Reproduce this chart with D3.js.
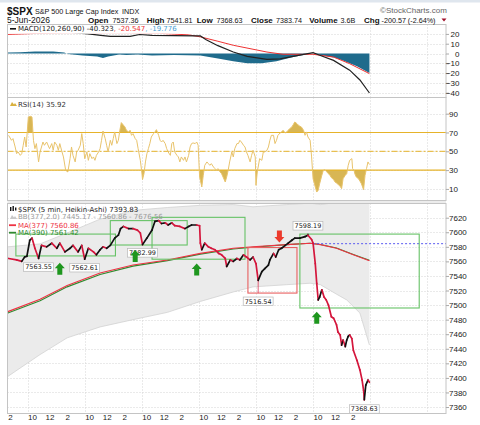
<!DOCTYPE html>
<html>
<head>
<meta charset="utf-8">
<title>$SPX 5 min Heikin-Ashi</title>
<script src="https://cdn.jsdelivr.net/npm/d3@7"></script>
<style>
  body { margin: 0; background: #fff; }
  svg { display: block; }
  .axis text { font-family: "Liberation Sans", Arial, sans-serif; font-size: 8px; fill: #222; }
  .legend { font-family: "DejaVu Sans", Verdana, sans-serif; font-size: 7px; }
  .hdr { font-family: "Liberation Sans", Arial, sans-serif; fill: #111; }
</style>
</head>
<body>
<svg id="chart" width="480" height="425"></svg>
<script>

//// DATA ////
// x values are 5-minute bars counted from the 5/29 open (bar 0 = 9:30), 78 bars per session

var dayLabels = ["5/29", "6/1", "6/2", "6/3", "6/4", "6/5", "6/8", "6/9"];
var sessionTimes = [[6, "10"], [30, "12"], [54, "2"]];
var tradedDays = [-1, 0, 1, 2, 3, 4, 5];

var priceTicks = [7360, 7380, 7400, 7420, 7440, 7460, 7480, 7500, 7520, 7540, 7560, 7580, 7600, 7620];
var macdTicks = [20, 10, 0, -10, -20, -30, -40];
var rsiTicks = [90, 70, 50, 30, 10];

// Heikin-Ashi close, [bar, price]
var priceSeries = [
  [-26,7564],[-15,7562],[-8,7560],[-4,7566],[-1,7567],[3,7589],[6,7592],[10,7578],[15,7564],[19,7582],
  [26,7580],[33,7585],[40,7578],[44,7585],[51,7573],[58,7578],[62,7582],[69,7573],[74,7582],[78,7563],
  [83,7578],[90,7573],[94,7569],[99,7576],[103,7580],[108,7578],[113,7582],[119,7592],[124,7596],[127,7605],
  [131,7608],[138,7605],[144,7605],[150,7603],[154,7599],[157,7583],[163,7592],[170,7603],[174,7615],[179,7616],
  [183,7612],[188,7613],[192,7610],[197,7613],[201,7609],[208,7608],[215,7605],[220,7608],[224,7610],[231,7610],
  [235,7609],[236,7585],[238,7576],[242,7585],[247,7580],[251,7578],[256,7576],[261,7571],[265,7569],[270,7564],
  [272,7553],[277,7562],[281,7560],[286,7564],[290,7562],[295,7569],[299,7566],[304,7562],[308,7566],[312,7557],
  [315,7534],[320,7546],[324,7550],[329,7555],[331,7562],[336,7571],[339,7566],[343,7576],[347,7578],[352,7582],
  [356,7585],[361,7589],[365,7592],[372,7592],[379,7594],[383,7596],[388,7590],[390,7585],[393,7557],[395,7530],
  [397,7507],[399,7511],[402,7521],[405,7511],[408,7507],[411,7500],[415,7484],[418,7482],[422,7473],[424,7463],
  [427,7459],[429,7445],[431,7452],[434,7443],[436,7452],[438,7457],[440,7459],[443,7454],[445,7438],[450,7424],
  [454,7411],[457,7397],[459,7383],[460,7370],[462,7390],[465,7397],[467,7394]
];

var ma377 = [[-27,7491],[17,7508],[54,7527],[99,7544],[144,7555],[191,7562],[236,7571],[281,7578],[308,7580],
  [354,7583],[386,7585],[400,7583],[422,7578],[445,7569],[467,7560.86]];
var ma390 = [[-27,7489],[17,7506],[54,7525],[99,7542],[144,7553.5],[191,7561],[236,7570],[281,7577],[308,7579.5],
  [354,7583],[386,7585],[400,7583.2],[422,7578.3],[445,7569.5],[467,7561.42]];
var bbUpper = [[-27,7580],[17,7584],[54,7599],[99,7618],[144,7630],[191,7634],[236,7637],[281,7638],[308,7635],
  [354,7638],[386,7640],[400,7638],[422,7641],[436,7642],[454,7643],[467,7676.56]];
var bbLower = [[-27,7402],[17,7432],[54,7455],[99,7470],[144,7480],[191,7490],[236,7505],[281,7518],[308,7525],
  [354,7528],[386,7530],[400,7528],[422,7515],[436,7507],[454,7489],[467,7445.17]];

var prevClose = 7584.31;
var prevCloseFrom = 390;

// marked highs and lows
var extremes = [
  {bar: 15, price: 7563.55, type: "low"},
  {bar: 78, price: 7562.61, type: "low"},
  {bar: 157, price: 7582.99, type: "low"},
  {bar: 315, price: 7516.54, type: "low"},
  {bar: 383, price: 7598.19, type: "high"},
  {bar: 460, price: 7368.63, type: "low"}
];

// annotation rectangles
var zones = [
  {from: -16, to: 120, hi: 7597.5, lo: 7567.5, kind: "buy"},
  {from: 113, to: 218, hi: 7616, lo: 7582.5, kind: "buy"},
  {from: 170, to: 297, hi: 7620.5, lo: 7563, kind: "buy"},
  {from: 301, to: 368, hi: 7579, lo: 7516.5, kind: "sell"},
  {from: 372, to: 535, hi: 7597.5, lo: 7496, kind: "buy"}
];

// annotation arrows (price = arrow tip)
var signals = [
  {bar: 44, price: 7558, dir: "up"},
  {bar: 147, price: 7575.5, dir: "up"},
  {bar: 231, price: 7557, dir: "up"},
  {bar: 395, price: 7491, dir: "up"},
  {bar: 344, price: 7586, dir: "down"}
];

// MACD(120,260,90)
var macdLine = [[-27,23],[0,23],[30,22.5],[60,21.5],[83,20],[100,18.5],[113,17.5],[140,17.5],[153,19.4],[170,18.5],
  [200,18.3],[230,18],[236,17.9],[244,14],[260,8],[281,1.5],[300,-3],[327,-6],[345,-5.5],[370,-2],[390,0.8],
  [400,-2],[418,-7],[440,-17],[454,-27],[467,-40.32]];
var signalLine = [[-27,19.5],[12,20.5],[60,21],[120,21],[180,20.6],[220,19],[236,17],[260,12.5],[281,8.4],
  [327,1.5],[349,-0.8],[390,-0.8],[418,-3.6],[440,-10.4],[467,-20.55]];
var macdHist = [[-27,1],[-10,1.2],[10,2],[35,2],[50,1],[55,-0.5],[75,-2],[95,-3],[103,-4.5],[110,-3],[125,-1],
  [135,-1.5],[150,-1],[170,-2],[200,-1.5],[236,-2],[260,-5],[281,-8],[300,-10],[320,-10],[340,-8],[360,-4],
  [380,-1],[390,0],[400,-1.5],[418,-4],[430,-7],[450,-13],[467,-19.78]];

// RSI(14)
var rsiSeries = [
  [-26,67],[-22,61.7],[-20,63.5],[-17,54.6],[-15,47.5],[-13,49.3],[-10,45.7],[-8,47.5],[-6,56.4],[-4,65.2],
  [-2,54.6],[0,75.9],[1,86.5],[4,87.2],[6,86.5],[8,61.7],[10,52.8],[12,58.2],[15,38.7],[17,49.3],
  [21,59.9],[23,56.4],[26,59.9],[30,52.8],[33,58.2],[35,51.1],[37,59.9],[40,56.4],[42,51.1],[44,58.2],
  [47,49.3],[49,44],[52,29.8],[55,28],[58,42.2],[60,54.6],[62,45.7],[65,38.7],[67,49.3],[69,51.1],
  [72,56.4],[74,68.8],[76,58.2],[78,42.2],[81,49.3],[83,40.4],[85,47.5],[88,42.2],[90,44],[92,40.4],
  [94,45.7],[97,49.3],[99,52.8],[101,61.7],[103,71.6],[106,63.5],[108,56.4],[110,49.3],[113,61.7],[115,56.4],
  [117,63.5],[119,70.6],[122,58.2],[124,61.7],[126,72.3],[128,80.5],[131,77.7],[133,75.9],[135,72.3],[138,70.6],
  [140,72.3],[142,67],[144,68.8],[147,63.5],[149,61.7],[151,52.8],[154,40.4],[156,28],[157,19.9],[159,26.2],
  [161,38.7],[163,47.5],[165,52.8],[167,58.2],[169,65.2],[172,68.8],[174,70.6],[176,73],[179,67],[181,61.7],
  [183,59.9],[185,61.7],[188,58.2],[190,52.8],[192,49.3],[195,45.7],[197,58.2],[199,59.9],[201,49.3],[204,45.7],
  [206,44],[208,38.7],[210,44],[213,40.4],[215,44],[217,38.7],[220,45.7],[222,54.6],[224,58.2],[226,58.9],
  [229,58.2],[231,59.9],[233,56.4],[235,22.7],[238,12.1],[240,24.5],[242,35.1],[245,38.7],[247,36.9],[249,35.1],
  [251,36.9],[254,33.3],[256,31.6],[258,29.8],[260,31.6],[263,28],[265,26.2],[267,22.7],[270,17.4],[272,22.7],
  [274,29.8],[276,38.7],[279,49.3],[281,44],[283,52.8],[286,58.2],[288,58.2],[290,61.7],[292,59.9],[295,56.4],
  [297,54.6],[299,49.3],[301,45.7],[304,38.7],[306,45.7],[308,51.1],[311,44],[312,13.8],[314,29.8],[315,33.3],
  [317,42.2],[320,40.4],[322,49.3],[324,49.3],[327,51.1],[329,54.6],[331,61.7],[333,67],[336,67],[338,58.2],
  [340,61.7],[342,67],[345,69.5],[347,70.6],[349,72.3],[352,69.5],[354,70.6],[356,72.3],[358,74.1],[361,75.9],
  [363,78.4],[365,81.2],[368,79.4],[370,77.7],[372,76.6],[374,75.9],[377,72.3],[379,67],[381,70.6],[383,65.2],
  [386,61.7],[388,44],[390,20.9],[393,12.1],[395,6.7],[397,8.5],[399,15.6],[402,24.5],[404,29.8],[406,30.5],
  [408,28.7],[411,26.2],[413,24.5],[415,22],[418,19.9],[420,17.4],[422,16.3],[424,14.9],[427,12.8],[429,10.3],
  [431,20.9],[434,24.5],[436,26.2],[438,35.1],[440,40.4],[443,42.2],[444,31.6],[446,29.8],[447,26.2],[449,22.7],
  [452,20.9],[454,18.4],[456,15.6],[459,9.2],[461,24.5],[463,31.6],[465,38.7],[467,35.92]
];


//// LAYOUT ////
var svg = d3.select("#chart");
var plotLeft = 7.5, plotRight = 446;
var macdBox = {top: 24.5, bottom: 97.5};
var rsiBox = {top: 97.5, bottom: 200.5};
var priceBox = {top: 203.5, bottom: 413.5};

var x = d3.scaleLinear().domain([-27.46, 571.6]).range([plotLeft, plotRight]);
var yMacd = d3.scaleLinear().domain([-44.9, 29.6]).range([macdBox.bottom, macdBox.top]);
var yRsi = d3.scaleLinear().domain([-2.3, 107.2]).range([rsiBox.bottom, rsiBox.top]);
var yPrice = d3.scaleLinear().domain([7351.1, 7639.5]).range([priceBox.bottom, priceBox.top]);

var dayBars = dayLabels.map(function(d, i) { return i * 78; });

var defs = svg.append("defs");
function addClip(id, x0, y0, x1, y1) {
  defs.append("clipPath").attr("id", id).append("rect")
    .attr("x", x0).attr("y", y0).attr("width", x1 - x0).attr("height", y1 - y0);
}
addClip("clipMacd", plotLeft, macdBox.top, plotRight, macdBox.bottom);
addClip("clipRsi", plotLeft, rsiBox.top, plotRight, rsiBox.bottom);
addClip("clipPrice", plotLeft, priceBox.top, plotRight, priceBox.bottom);
addClip("above70", plotLeft, rsiBox.top, plotRight, yRsi(70));
addClip("below30", plotLeft, yRsi(30), plotRight, rsiBox.bottom);

// header strip
svg.append("rect").attr("x", 0).attr("y", 0).attr("width", 480).attr("height", 2.5).attr("fill", "#dfe6ee");

// panel background + dotted grid
function panelFrame(box, y, ticks) {
  var g = svg.append("g");
  g.append("rect").attr("x", plotLeft).attr("y", box.top)
    .attr("width", plotRight - plotLeft).attr("height", box.bottom - box.top).attr("fill", "#fff");
  g.selectAll("line.h").data(ticks).join("line")
    .attr("x1", plotLeft).attr("x2", plotRight)
    .attr("y1", function(d) { return Math.round(y(d)) + 0.5; })
    .attr("y2", function(d) { return Math.round(y(d)) + 0.5; })
    .attr("stroke", "#d4d4d4").attr("stroke-dasharray", "1,2");
  g.selectAll("line.v").data(dayBars).join("line")
    .attr("x1", function(d) { return Math.round(x(d)) + 0.5; })
    .attr("x2", function(d) { return Math.round(x(d)) + 0.5; })
    .attr("y1", box.top).attr("y2", box.bottom)
    .attr("stroke", "#d4d4d4").attr("stroke-dasharray", "1,2");
}
panelFrame(macdBox, yMacd, macdTicks);
panelFrame(rsiBox, yRsi, rsiTicks);
panelFrame(priceBox, yPrice, priceTicks);

// separator band between RSI and price
svg.append("rect").attr("x", plotLeft).attr("y", rsiBox.bottom).attr("width", plotRight - plotLeft)
  .attr("height", priceBox.top - rsiBox.bottom).attr("fill", "#ececec");

function lineOf(yScale) {
  return d3.line().x(function(d) { return x(d[0]); }).y(function(d) { return yScale(d[1]); });
}

//// MACD PANEL ////
var gM = svg.append("g").attr("clip-path", "url(#clipMacd)");
gM.append("path").datum(macdHist)
  .attr("d", d3.area().x(function(d) { return x(d[0]); }).y0(yMacd(0)).y1(function(d) { return yMacd(d[1]); }))
  .attr("fill", "#1f6b8c");
gM.append("path").datum(signalLine).attr("d", lineOf(yMacd))
  .attr("fill", "none").attr("stroke", "#ee3333").attr("stroke-width", 1);
gM.append("path").datum(macdLine).attr("d", lineOf(yMacd))
  .attr("fill", "none").attr("stroke", "#222").attr("stroke-width", 1.2);

svg.append("rect").attr("x", plotLeft + 0.5).attr("y", macdBox.top + 0.5).attr("width", 200).attr("height", 8.8)
  .attr("fill", "#fff");
svg.append("rect").attr("x", 10).attr("y", 28).attr("width", 6).attr("height", 1.6).attr("fill", "#111");
var mLeg = svg.append("text").attr("class", "legend").attr("x", 18).attr("y", 31.3);
mLeg.append("tspan").attr("fill", "#222").text("MACD(120,260,90) -40.323");
mLeg.append("tspan").attr("fill", "#ee3333").text(", -20.547");
mLeg.append("tspan").attr("fill", "#4a9fd5").text(", -19.776");

//// RSI PANEL ////
var gR = svg.append("g").attr("clip-path", "url(#clipRsi)");
var rsiArea70 = d3.area().x(function(d) { return x(d[0]); }).y0(yRsi(70)).y1(function(d) { return yRsi(d[1]); });
var rsiArea30 = d3.area().x(function(d) { return x(d[0]); }).y0(yRsi(30)).y1(function(d) { return yRsi(d[1]); });
gR.append("path").datum(rsiSeries).attr("d", rsiArea70).attr("clip-path", "url(#above70)").attr("fill", "#d8b654");
gR.append("path").datum(rsiSeries).attr("d", rsiArea30).attr("clip-path", "url(#below30)").attr("fill", "#d8b654");
[70, 30].forEach(function(v) {
  gR.append("line").attr("x1", plotLeft).attr("x2", plotRight)
    .attr("y1", yRsi(v)).attr("y2", yRsi(v)).attr("stroke", "#e6b32a").attr("stroke-width", 1.2);
});
gR.append("line").attr("x1", plotLeft).attr("x2", plotRight)
  .attr("y1", yRsi(50)).attr("y2", yRsi(50)).attr("stroke", "#e6b32a")
  .attr("stroke-dasharray", "6,2,2,2");
gR.append("path").datum(rsiSeries).attr("d", lineOf(yRsi))
  .attr("fill", "none").attr("stroke", "#e8c36c").attr("stroke-width", 1);

svg.append("path").attr("d", "M10,106 L12,102 L14,104.5 L15,103 L17,106 Z").attr("fill", "#d9b13e");
svg.append("text").attr("class", "legend").attr("x", 18).attr("y", 106.5).attr("fill", "#333").text("RSI(14) 35.92");

//// PRICE PANEL ////
var gP = svg.append("g").attr("clip-path", "url(#clipPrice)");

// Bollinger band
var bandData = bbUpper.map(function(d, i) { return [d[0], d[1], bbLower[i][1]]; });
gP.append("path").datum(bandData)
  .attr("d", d3.area().x(function(d) { return x(d[0]); })
    .y0(function(d) { return yPrice(d[2]); }).y1(function(d) { return yPrice(d[1]); }))
  .attr("fill", "#ebebeb");
[bbUpper, bbLower].forEach(function(s) {
  gP.append("path").datum(s).attr("d", lineOf(yPrice))
    .attr("fill", "none").attr("stroke", "#d2d2d2").attr("stroke-width", 0.8);
});

// moving averages
gP.append("path").datum(ma390).attr("d", lineOf(yPrice))
  .attr("fill", "none").attr("stroke", "#2f8a2f").attr("stroke-width", 1.1);
gP.append("path").datum(ma377).attr("d", lineOf(yPrice))
  .attr("fill", "none").attr("stroke", "#ee3344").attr("stroke-width", 1.1);

// previous close
gP.append("line").attr("x1", x(prevCloseFrom)).attr("x2", plotRight)
  .attr("y1", yPrice(prevClose)).attr("y2", yPrice(prevClose))
  .attr("stroke", "#5a5af0").attr("stroke-dasharray", "2,2");

// annotation rectangles
gP.selectAll("rect.zone").data(zones).join("rect")
  .attr("x", function(d) { return x(d.from); })
  .attr("y", function(d) { return yPrice(d.hi); })
  .attr("width", function(d) { return x(d.to) - x(d.from); })
  .attr("height", function(d) { return yPrice(d.lo) - yPrice(d.hi); })
  .attr("fill", "none")
  .attr("stroke", function(d) { return d.kind === "buy" ? "#66c266" : "#e86060"; })
  .attr("stroke-width", 1.1);

// wicks to the marked extremes
function seriesAt(bar) {
  var p = priceSeries.find(function(d) { return d[0] === bar; });
  return p ? p[1] : null;
}
gP.selectAll("line.wick").data(extremes).join("line")
  .attr("x1", function(d) { return x(d.bar); }).attr("x2", function(d) { return x(d.bar); })
  .attr("y1", function(d) { return yPrice(seriesAt(d.bar)); })
  .attr("y2", function(d) { return yPrice(d.price); })
  .attr("stroke", function(d) { return d.type === "low" ? "#e0506a" : "#111"; })
  .attr("stroke-width", 0.9);

// Heikin-Ashi closes, coloured by direction
gP.selectAll("line.px").data(d3.pairs(priceSeries)).join("line")
  .attr("x1", function(d) { return x(d[0][0]); }).attr("y1", function(d) { return yPrice(d[0][1]); })
  .attr("x2", function(d) { return x(d[1][0]); }).attr("y2", function(d) { return yPrice(d[1][1]); })
  .attr("stroke", function(d) { return d[1][1] >= d[0][1] ? "#111" : "#d4163c"; })
  .attr("stroke-width", 1.7).attr("stroke-linecap", "round");

// value labels at the extremes
extremes.forEach(function(d) {
  var cx = x(d.bar);
  var yy = yPrice(d.price);
  var boxTop = d.type === "low" ? yy + 4 : yy - 12;
  var g = svg.append("g");
  var t = g.append("text").attr("class", "legend").style("font-size", "6.5px")
    .attr("text-anchor", "middle").attr("x", cx).attr("y", boxTop + 6.6).attr("fill", "#222")
    .text(d3.format(".2f")(d.price));
  var w = t.node().getComputedTextLength() + 3;
  g.insert("rect", "text").attr("x", cx - w / 2).attr("y", boxTop).attr("width", w).attr("height", 8.5)
    .attr("fill", "#fff").attr("stroke", "#b8b8b8").attr("stroke-width", 0.7);
});

// arrows
function arrowPath(cx, tip, dir) {
  var s = dir === "up" ? 1 : -1;
  return "M" + cx + "," + tip +
    " L" + (cx + 5) + "," + (tip + 5.5 * s) + " L" + (cx + 2.5) + "," + (tip + 5.5 * s) +
    " L" + (cx + 2.5) + "," + (tip + 12 * s) + " L" + (cx - 2.5) + "," + (tip + 12 * s) +
    " L" + (cx - 2.5) + "," + (tip + 5.5 * s) + " L" + (cx - 5) + "," + (tip + 5.5 * s) + " Z";
}
svg.selectAll("path.sig").data(signals).join("path")
  .attr("d", function(d) { return arrowPath(x(d.bar), yPrice(d.price), d.dir); })
  .attr("fill", function(d) { return d.dir === "up" ? "#1e961e" : "#ec3a2c"; });

// price legend
svg.append("rect").attr("x", 10).attr("y", 207).attr("width", 1.4).attr("height", 4).attr("fill", "#111");
svg.append("rect").attr("x", 12.5).attr("y", 206).attr("width", 1.4).attr("height", 5).attr("fill", "#111");
svg.append("rect").attr("x", 15).attr("y", 207.5).attr("width", 1.4).attr("height", 3).attr("fill", "#111");
svg.append("text").attr("class", "legend").attr("x", 18).attr("y", 211.8).attr("fill", "#222")
  .text("$SPX (5 min, Heikin-Ashi) 7393.83");
svg.append("path").attr("d", "M10,219 L12,215 L14,217.5 L15,216 L17,219 Z").attr("fill", "#c8c8c8");
svg.append("text").attr("class", "legend").attr("x", 18).attr("y", 219.3).attr("fill", "#9a9a9a")
  .text("BB(377,2.0) 7445.17 - 7560.86 - 7676.56");
svg.append("rect").attr("x", 9).attr("y", 224.3).attr("width", 7).attr("height", 1.8).attr("fill", "#ee3344");
svg.append("text").attr("class", "legend").attr("x", 18).attr("y", 227.5).attr("fill", "#ee3344")
  .text("MA(377) 7560.86");
svg.append("rect").attr("x", 9).attr("y", 231.8).attr("width", 7).attr("height", 1.8).attr("fill", "#2f8a2f");
svg.append("text").attr("class", "legend").attr("x", 18).attr("y", 235).attr("fill", "#2f8a2f")
  .text("MA(390) 7561.42");

//// BORDERS + AXES ////
[macdBox, rsiBox, priceBox].forEach(function(b) {
  svg.append("rect").attr("x", plotLeft).attr("y", b.top).attr("width", plotRight - plotLeft)
    .attr("height", b.bottom - b.top).attr("fill", "none").attr("stroke", "#c4c4c4");
});

function rightAxis(scale, ticks, anchorEnd) {
  var ax = svg.append("g").attr("class", "axis").attr("transform", "translate(" + plotRight + ",0)")
    .call(d3.axisRight(scale).tickValues(ticks).tickSize(3).tickPadding(0).tickFormat(d3.format("d")));
  ax.select(".domain").remove();
  ax.selectAll(".tick line").attr("stroke", "#aaa");
  if (anchorEnd) ax.selectAll("text").attr("text-anchor", "end").attr("x", 13.5);
  return ax;
}
rightAxis(yMacd, macdTicks, true);
rightAxis(yRsi, rsiTicks, false);
rightAxis(yPrice, priceTicks, false);

var timeTicks = [];
tradedDays.forEach(function(d) {
  sessionTimes.forEach(function(t) {
    var b = d * 78 + t[0];
    if (b >= x.domain()[0]) timeTicks.push([b, t[1]]);
  });
});
var xa = svg.append("g").attr("class", "axis").attr("transform", "translate(0," + priceBox.bottom + ")")
  .call(d3.axisBottom(x).tickValues(timeTicks.map(function(d) { return d[0]; }))
    .tickFormat(function(v) { return timeTicks.find(function(d) { return d[0] === v; })[1]; })
    .tickSize(0).tickPadding(1));
xa.select(".domain").remove();
// session dates sit on a second row that is mostly below the picture edge
var xd = svg.append("g").attr("class", "axis").attr("transform", "translate(0," + priceBox.bottom + ")")
  .call(d3.axisBottom(x).tickValues(dayBars)
    .tickFormat(function(v, i) { return dayLabels[i]; }).tickSize(0).tickPadding(10.5));
xd.select(".domain").remove();

//// HEADER ////
svg.append("text").attr("class", "hdr").attr("x", 7).attr("y", 14.5).style("font-size", "10px")
  .style("font-weight", "bold").text("$SPX");
svg.append("text").attr("class", "hdr").attr("x", 35).attr("y", 14).style("font-size", "7.2px")
  .text("S&P 500 Large Cap Index");
svg.append("text").attr("class", "hdr").attr("x", 122).attr("y", 14).style("font-size", "7.2px").text("INDX");
svg.append("text").attr("class", "hdr").attr("x", 380).attr("y", 12.5).style("font-size", "8px")
  .style("fill", "#666").text("\u00a9StockCharts.com");
svg.append("text").attr("class", "hdr").attr("x", 7).attr("y", 23).style("font-size", "8.5px").text("5-Jun-2026");

var quote = [
  ["Open", 88, "7537.36", 112.5],
  ["High", 146.7, "7541.81", 166.5],
  ["Low", 196.7, "7368.63", 216.5],
  ["Close", 251, "7383.74", 276],
  ["Volume", 309.3, "3.6B", 340.5],
  ["Chg", 364, "-200.57 (-2.64%)", 381.5]
];
quote.forEach(function(q) {
  svg.append("text").attr("class", "hdr").attr("x", q[1]).attr("y", 22.5).style("font-size", "8px")
    .style("font-weight", "bold").text(q[0]);
  svg.append("text").attr("class", "hdr").attr("x", q[3]).attr("y", 22.5).style("font-size", "7.2px").text(q[2]);
});
svg.append("path").attr("d", "M441.5,18.5 L446.5,18.5 L444,21.5 Z").attr("fill", "#a0102a");

</script>
</body>
</html>
